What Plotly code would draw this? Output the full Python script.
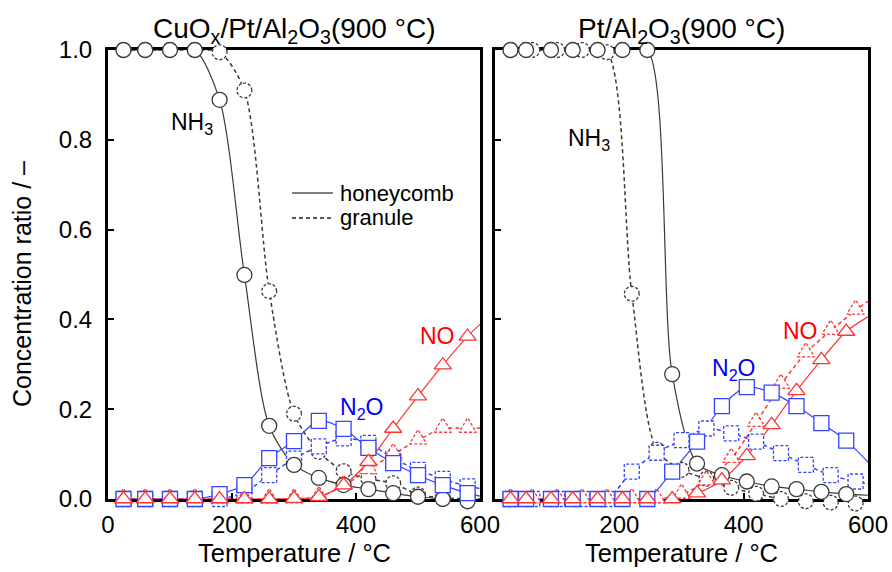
import numpy as np
import plotly.graph_objects as go

# ---------------- data ----------------
# Left panel: CuOx/Pt/Al2O3(900 °C)
L_T_HC = [25, 60, 100, 140, 180, 220, 260, 300, 340, 380, 420, 460, 500, 540, 580, 620]
L_NH3_HC = [1.0, 1.0, 1.0, 1.0, 0.889, 0.499, 0.163, 0.076, 0.047, 0.031, 0.022, 0.013, 0.005, 0.0, -0.005, -0.008]
L_N2O_HC = [0, 0, 0, 0, 0.011, 0.031, 0.091, 0.129, 0.174, 0.156, 0.114, 0.080, 0.053, 0.031, 0.013, 0.0]
L_NO_HC = [0, 0, 0, 0, 0, 0, 0, 0.001, 0.005, 0.031, 0.083, 0.157, 0.229, 0.298, 0.362, 0.415]

L_T_GR = [25, 60, 100, 140, 180, 220, 260, 300, 340, 380, 420, 460, 500, 540, 580, 620]
L_NH3_GR = [1.0, 1.0, 1.0, 1.0, 0.995, 0.91, 0.463, 0.19, 0.105, 0.062, 0.045, 0.035, 0.01, 0.003, 0.0, 0.0]
L_N2O_GR = [0, 0, 0, 0, 0.0, 0.015, 0.053, 0.09, 0.117, 0.135, 0.125, 0.09, 0.065, 0.045, 0.028, 0.02]
L_NO_GR = [0, 0, 0, 0, 0, 0, 0, 0, 0.005, 0.03, 0.065, 0.10, 0.131, 0.157, 0.157, 0.16]

# Right panel: Pt/Al2O3(900 °C)
R_T_HC = [25, 50, 90, 125, 165, 205, 245, 285, 325, 365, 405, 445, 485, 525, 565, 605]
R_NH3_HC = [1.0, 1.0, 1.0, 1.0, 1.0, 1.0, 1.0, 0.278, 0.079, 0.053, 0.039, 0.028, 0.022, 0.016, 0.011, 0.008]
R_N2O_HC = [0, 0, 0, 0, 0, 0, 0, 0.061, 0.128, 0.207, 0.249, 0.237, 0.207, 0.169, 0.130, 0.075]
R_NO_HC = [0, 0, 0, 0, 0, 0, 0, 0, 0.013, 0.042, 0.096, 0.165, 0.241, 0.31, 0.373, 0.41]

R_T_GR = [25, 60, 100, 140, 180, 220, 260, 300, 340, 380, 420, 460, 500, 540, 580, 620]
R_NH3_GR = [1.0, 1.0, 1.0, 1.0, 0.995, 0.457, 0.11, 0.065, 0.045, 0.025, 0.012, 0.0, -0.005, -0.008, -0.01, -0.01]
R_N2O_GR = [0, 0, 0, 0, 0.0, 0.061, 0.103, 0.131, 0.157, 0.146, 0.128, 0.102, 0.076, 0.053, 0.039, 0.03]
R_NO_GR = [0, 0, 0, 0, 0, 0, 0, 0.01, 0.04, 0.09, 0.17, 0.255, 0.325, 0.375, 0.42, 0.46]

X_TICKS_LEFT = [0, 200, 400, 600]
X_TICKS_RIGHT = [200, 400, 600]
Y_TICKS = [0.0, 0.2, 0.4, 0.6, 0.8, 1.0]

# ---------------- styling / geometry ----------------
W, H = 892, 572
LEFT_PX = (108, 480)
RIGHT_PX = (495, 868)
Y_PX = (50, 499)  # top, bottom (from top)
X_RANGE = [0, 600]
Y_RANGE = [0, 1]
FONT = "Liberation Sans, Arial, sans-serif"
C_NH3 = "#3a3a3a"
C_N2O = "#3344ff"
C_NO = "#ff3535"
MS = 15

def pdom(a, b):
    return [a / W, b / W]

ydom = [(H - Y_PX[1]) / H, (H - Y_PX[0]) / H]
sy = (Y_PX[1] - Y_PX[0]) / (Y_RANGE[1] - Y_RANGE[0])

fig = go.Figure()

def outline(T, C, symbol, sx):
    xs, ys = [], []
    r = MS / 2
    for t, c in zip(T, C):
        if t > X_RANGE[1]:
            continue
        if symbol == "circle":
            ang = np.linspace(0, 2 * np.pi, 29)
            dx = r * np.cos(ang)
            dy = r * np.sin(ang)
        elif symbol == "square":
            dx = np.array([-r, r, r, -r, -r])
            dy = np.array([-r, -r, r, r, -r])
        else:
            rt = r * 2 / np.sqrt(3)
            r2 = r / 2
            rs = r * np.sqrt(2)
            dx = np.array([-rt, rt, 0, -rt])
            dy = -np.array([r2, r2, -rs, r2])
        xs += list(t + dx / sx) + [None]
        ys += list(c + dy / sy) + [None]
    return xs, ys

def panel(idx, T_hc, hc, T_gr, gr, px):
    xa = "x" if idx == 1 else "x2"
    ya = "y" if idx == 1 else "y2"
    xo = "x3" if idx == 1 else "x4"
    yo = "y3" if idx == 1 else "y4"
    sx = (px[1] - px[0]) / (X_RANGE[1] - X_RANGE[0])
    specs = [("circle", C_NH3), ("square", C_N2O), ("triangle-up", C_NO)]
    # lines (clipped to the frame)
    for (sym, col), vals in zip(specs, gr):
        fig.add_trace(go.Scatter(x=T_gr, y=vals, mode="lines", xaxis=xa, yaxis=ya,
                                 line=dict(color=col, width=1.5, dash="4px,3px", shape="spline", smoothing=0.8),
                                 showlegend=False, hoverinfo="skip"))
    for (sym, col), vals in zip(specs, hc):
        fig.add_trace(go.Scatter(x=T_hc, y=vals, mode="lines", xaxis=xa, yaxis=ya,
                                 line=dict(color=col, width=1.2, shape="spline", smoothing=0.8),
                                 showlegend=False, hoverinfo="skip"))
    # granule markers: white fill + dashed outline
    for (sym, col), vals in zip(specs, gr):
        tt = [t for t in T_gr if t <= X_RANGE[1]]
        vv = [v for t, v in zip(T_gr, vals) if t <= X_RANGE[1]]
        fig.add_trace(go.Scatter(x=tt, y=vv, mode="markers", xaxis=xo, yaxis=yo, cliponaxis=False,
                                 marker=dict(symbol=sym, size=MS, color="white", line=dict(width=0)),
                                 showlegend=False, hoverinfo="skip"))
        ox, oy = outline(T_gr, vals, sym, sx)
        fig.add_trace(go.Scatter(x=ox, y=oy, mode="lines", xaxis=xo, yaxis=yo, cliponaxis=False,
                                 line=dict(color=col, width=1.3, dash="3px,2px"),
                                 showlegend=False, hoverinfo="skip"))
    # honeycomb markers
    for (sym, col), vals in zip(specs, hc):
        tt = [t for t in T_hc if t <= X_RANGE[1]]
        vv = [v for t, v in zip(T_hc, vals) if t <= X_RANGE[1]]
        fig.add_trace(go.Scatter(x=tt, y=vv, mode="markers", xaxis=xo, yaxis=yo, cliponaxis=False,
                                 marker=dict(symbol=sym, size=MS, color="white", line=dict(width=1.3, color=col)),
                                 showlegend=False, hoverinfo="skip"))
    return sx

sxl = panel(1, L_T_HC, [L_NH3_HC, L_N2O_HC, L_NO_HC], L_T_GR, [L_NH3_GR, L_N2O_GR, L_NO_GR], LEFT_PX)
sxr = panel(2, R_T_HC, [R_NH3_HC, R_N2O_HC, R_NO_HC], R_T_GR, [R_NH3_GR, R_N2O_GR, R_NO_GR], RIGHT_PX)

tickfont = dict(family=FONT, size=24, color="black")
axis_common = dict(showline=True, linewidth=3, linecolor="black", mirror=True, ticks="inside",
                   ticklen=6, tickwidth=2, tickcolor="black", showgrid=False, zeroline=False,
                   automargin=False, tickfont=tickfont, fixedrange=True)

ybot_px = H - Y_PX[1]
overlay_y = [-ybot_px / sy, (H - ybot_px) / sy]

fig.update_layout(
    width=W, height=H, margin=dict(l=0, r=0, t=0, b=0),
    paper_bgcolor="white", plot_bgcolor="rgba(0,0,0,0)", showlegend=False,
    font=dict(family=FONT, color="black"),
    xaxis=dict(domain=pdom(*LEFT_PX), range=X_RANGE, anchor="y", tickvals=X_TICKS_LEFT,
               ticklabelstandoff=2, **axis_common),
    yaxis=dict(domain=ydom, range=Y_RANGE, anchor="x", tickvals=Y_TICKS, tickformat=".1f",
               ticklabelstandoff=8, **axis_common),
    xaxis2=dict(domain=pdom(*RIGHT_PX), range=X_RANGE, anchor="y2", tickvals=X_TICKS_RIGHT,
                ticklabelstandoff=2, **axis_common),
    yaxis2=dict(domain=ydom, range=Y_RANGE, anchor="x2", tickvals=Y_TICKS, showticklabels=False, **axis_common),
    xaxis3=dict(domain=[0, 1], range=[-LEFT_PX[0] / sxl, (W - LEFT_PX[0]) / sxl], anchor="y3", visible=False, fixedrange=True),
    yaxis3=dict(domain=[0, 1], range=overlay_y, anchor="x3", visible=False, fixedrange=True),
    xaxis4=dict(domain=[0, 1], range=[-RIGHT_PX[0] / sxr, (W - RIGHT_PX[0]) / sxr], anchor="y4", visible=False, fixedrange=True),
    yaxis4=dict(domain=[0, 1], range=overlay_y, anchor="x4", visible=False, fixedrange=True),
)

def ann(text, x, y, size, color="black", **kw):
    fig.add_annotation(text=text, x=x / W, y=1 - y / H, xref="paper", yref="paper", showarrow=False,
                       font=dict(family=FONT, size=size, color=color), **kw)

lc = (LEFT_PX[0] + LEFT_PX[1]) / 2
rc = (RIGHT_PX[0] + RIGHT_PX[1]) / 2
ann("CuO<sub>x</sub>/Pt/Al<sub>2</sub>O<sub>3</sub>(900 °C)", lc, 30, 28, xanchor="center", yanchor="middle")
ann("Pt/Al<sub>2</sub>O<sub>3</sub>(900 °C)", rc, 30, 28, xanchor="center", yanchor="middle")
ann("Temperature / °C", lc, 553, 25.5, xanchor="center", yanchor="middle")
ann("Temperature / °C", rc, 553, 25.5, xanchor="center", yanchor="middle")
ann("Concentration ratio / –", 22, 284, 25, textangle=-90, xanchor="center", yanchor="middle")

ann("NH<sub>3</sub>", 192, 124, 23, xanchor="center", yanchor="middle")
ann("N<sub>2</sub>O", 361, 408, 23, color="#0000ff", xanchor="center", yanchor="middle")
ann("NO", 437, 336, 23, color="#ff0000", xanchor="center", yanchor="middle")
ann("NH<sub>3</sub>", 589, 139, 23, xanchor="center", yanchor="middle")
ann("N<sub>2</sub>O", 733, 369, 23, color="#0000ff", xanchor="center", yanchor="middle")
ann("NO", 800, 331, 23, color="#ff0000", xanchor="center", yanchor="middle")

# legend (drawn manually)
fig.add_shape(type="line", xref="paper", yref="paper", x0=292 / W, x1=333 / W, y0=1 - 193 / H, y1=1 - 193 / H,
              line=dict(color="#555555", width=1.5))
fig.add_shape(type="line", xref="paper", yref="paper", x0=292 / W, x1=333 / W, y0=1 - 218 / H, y1=1 - 218 / H,
              line=dict(color="#222222", width=1.5, dash="4px,3px"))
ann("honeycomb", 338, 193, 22, xanchor="left", yanchor="middle")
ann("granule", 338, 218, 22, xanchor="left", yanchor="middle")

fig.write_html("out.html")
